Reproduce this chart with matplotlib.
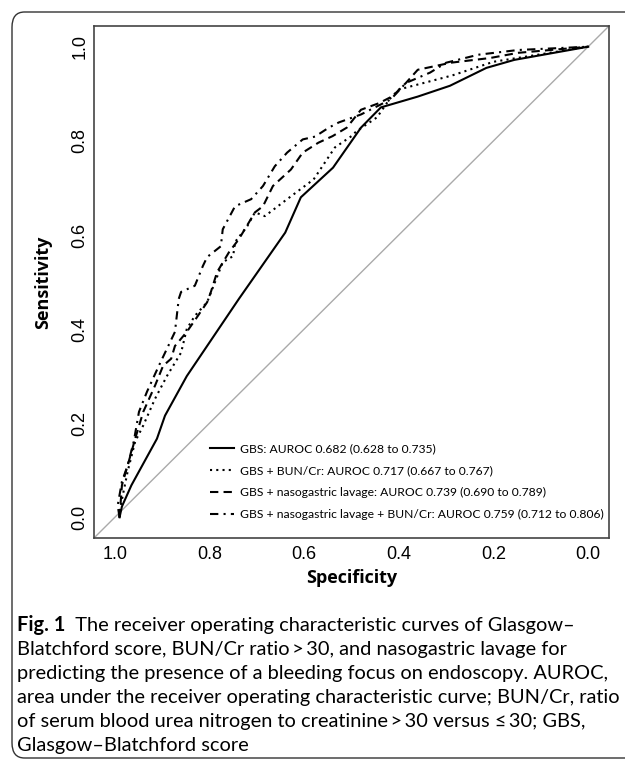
import numpy as np
import matplotlib.pyplot as plt
from matplotlib.patches import FancyBboxPatch

# ROC curves (specificity, sensitivity)
gbs_spec = [0.99, 0.985, 0.965, 0.911, 0.894, 0.848, 0.738, 0.64, 0.607, 0.539,
            0.48, 0.438, 0.36, 0.292, 0.215, 0.156, 0.0]
gbs_sens = [0.0, 0.023, 0.068, 0.167, 0.216, 0.30, 0.464, 0.605, 0.68, 0.743,
            0.828, 0.871, 0.894, 0.917, 0.955, 0.972, 1.0]

bun_spec = [0.99, 0.99, 0.973, 0.957, 0.94, 0.915, 0.89, 0.86, 0.848, 0.831, 0.805,
            0.772, 0.75, 0.746, 0.72, 0.704, 0.683, 0.636, 0.58, 0.535, 0.50,
            0.49, 0.446, 0.42, 0.40, 0.287, 0.2, 0.0]
bun_sens = [0.0, 0.013, 0.097, 0.161, 0.195, 0.252, 0.30, 0.35, 0.40, 0.428, 0.457,
            0.542, 0.555, 0.585, 0.619, 0.648, 0.64, 0.676, 0.718, 0.786, 0.81,
            0.82, 0.85, 0.888, 0.909, 0.939, 0.968, 1.0]

ngl_spec = [0.99, 0.985, 0.973, 0.957, 0.94, 0.915, 0.898, 0.881, 0.873, 0.848,
            0.83, 0.805, 0.797, 0.784, 0.759, 0.738, 0.704, 0.687, 0.666, 0.628,
            0.603, 0.57, 0.54, 0.51, 0.48, 0.442, 0.413, 0.385, 0.36, 0.29,
            0.207, 0.148, 0.0]
ngl_sens = [0.0, 0.068, 0.11, 0.167, 0.224, 0.28, 0.322, 0.337, 0.364, 0.394,
            0.42, 0.457, 0.479, 0.521, 0.563, 0.591, 0.648, 0.661, 0.704, 0.739,
            0.775, 0.796, 0.81, 0.828, 0.866, 0.88, 0.895, 0.923, 0.951, 0.966,
            0.976, 0.987, 1.0]

all_spec = [0.99, 0.994, 0.985, 0.973, 0.96, 0.949, 0.932, 0.907, 0.89, 0.873,
            0.865, 0.86, 0.831, 0.814, 0.805, 0.776, 0.772, 0.746, 0.712, 0.687,
            0.662, 0.636, 0.603, 0.577, 0.548, 0.527, 0.48, 0.417, 0.385, 0.334,
            0.3, 0.232, 0.148, 0.0]
all_sens = [0.0, 0.025, 0.076, 0.11, 0.161, 0.224, 0.267, 0.322, 0.358, 0.394,
            0.464, 0.479, 0.492, 0.534, 0.553, 0.576, 0.612, 0.661, 0.676, 0.704,
            0.746, 0.775, 0.803, 0.809, 0.828, 0.839, 0.856, 0.888, 0.923, 0.945,
            0.966, 0.983, 0.993, 1.0]

labels = ["GBS: AUROC 0.682 (0.628 to 0.735)",
          "GBS + BUN/Cr: AUROC 0.717 (0.667 to 0.767)",
          "GBS + nasogastric lavage: AUROC 0.739 (0.690 to 0.789)",
          "GBS + nasogastric lavage + BUN/Cr: AUROC 0.759 (0.712 to 0.806)"]

ticks = [1.0, 0.8, 0.6, 0.4, 0.2, 0.0]

fig = plt.figure(figsize=(6.25, 7.6), dpi=100)

# rounded frame around the figure panel (right side runs off the page)
frame = FancyBboxPatch((12 / 625, 2 / 760), 700 / 625, 746 / 760,
                       boxstyle="round,pad=0,rounding_size=0.02",
                       transform=fig.transFigure, fill=False,
                       lw=1.0, ec="#333333", clip_on=False)
fig.patches.append(frame)

ax = fig.add_axes([94 / 625, 1 - 538 / 760, 515 / 625, 512 / 760])

ax.plot([1.044, -0.044], [-0.044, 1.044], color="#aaaaaa", lw=1.0)
ax.plot(gbs_spec, gbs_sens, color="black", lw=1.5, ls="-", label=labels[0])
ax.plot(bun_spec, bun_sens, color="black", lw=1.5, ls=(0, (1, 2)), label=labels[1])
ax.plot(ngl_spec, ngl_sens, color="black", lw=1.5, ls=(0, (4, 2.5)), label=labels[2])
ax.plot(all_spec, all_sens, color="black", lw=1.5, ls=(0, (4, 2.5, 1, 2.5)), label=labels[3])

ax.set_xlim(1.044, -0.044)
ax.set_ylim(-0.044, 1.044)
ax.set_xticks(ticks)
ax.set_yticks(ticks)
ax.set_xticklabels(["%.1f" % t for t in ticks], family="Liberation Sans", fontsize=13)
ax.set_yticklabels(["%.1f" % t for t in ticks], family="Liberation Sans", fontsize=13,
                   rotation=90, va="center")
ax.tick_params(axis="x", length=0, pad=6)
ax.tick_params(axis="y", length=0, pad=4)
for s in ax.spines.values():
    s.set_color("#444444")
    s.set_linewidth(1.2)

ax.set_xlabel("Specificity", family="Open Sans", fontweight="bold", fontsize=13, labelpad=4)
ax.set_ylabel("Sensitivity", family="Open Sans", fontweight="bold", fontsize=13, labelpad=14)

ax.legend(loc="lower left", bbox_to_anchor=(0.216, 0.025), frameon=False,
          prop={"family": "Lato", "size": 8.7}, handlelength=2.0, handletextpad=0.45,
          labelspacing=0.92, borderaxespad=0)

caption = [
    ("Fig. 1", "  The receiver operating characteristic curves of Glasgow\u2013"),
    ("", "Blatchford score, BUN/Cr ratio\u2009>\u200930, and nasogastric lavage for"),
    ("", "predicting the presence of a bleeding focus on endoscopy. AUROC,"),
    ("", "area under the receiver operating characteristic curve; BUN/Cr, ratio"),
    ("", "of serum blood urea nitrogen to creatinine\u2009>\u200930 versus \u2264\u200930; GBS,"),
    ("", "Glasgow\u2013Blatchford score"),
]
y0 = 625
for i, (bold, rest) in enumerate(caption):
    y = 1 - (y0 + i * 24) / 760
    x = 17 / 625
    if bold:
        t = fig.text(x, y, bold, family="Lato", fontweight="bold", fontsize=14.4, va="center")
        fig.canvas.draw()
        bb = t.get_window_extent()
        x = bb.x1 / 625
    fig.text(x, y, rest, family=["Lato", "DejaVu Sans"], fontsize=14.4, va="center")

fig.savefig("out.png", dpi=100)
